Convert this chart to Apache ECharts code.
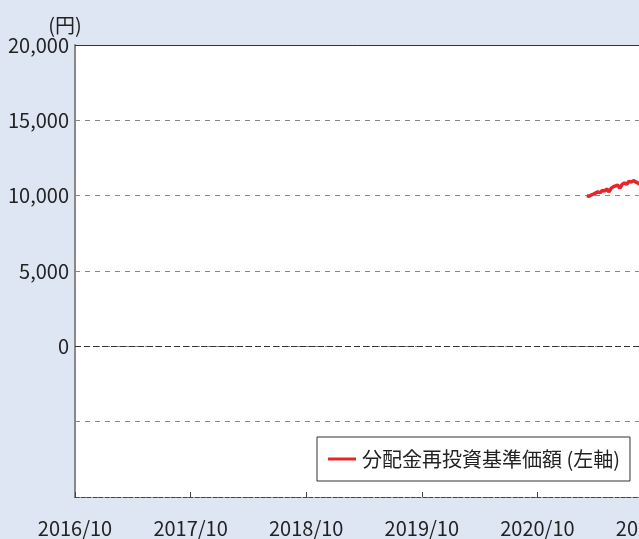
<!DOCTYPE html>
<html>
<head>
<meta charset="utf-8">
<script src="https://cdn.jsdelivr.net/npm/echarts@6/dist/echarts.min.js"></script>
<style>
html, body { margin: 0; padding: 0; background: #dee6f4; }
#main { width: 639px; height: 539px; }
</style>
</head>
<body>
<div id="main"></div>
<script>
// 基準価額の推移 (週次, 目視で読み取り)
var dates = [
    '2021/03/05', '2021/03/12', '2021/03/19', '2021/03/26', '2021/04/02',
    '2021/04/09', '2021/04/16', '2021/04/23', '2021/04/30', '2021/05/07',
    '2021/05/14', '2021/05/21', '2021/05/28', '2021/06/04', '2021/06/11',
    '2021/06/18', '2021/06/25', '2021/07/02', '2021/07/09', '2021/07/16',
    '2021/07/23', '2021/07/30', '2021/08/06', '2021/08/13', '2021/08/20',
    '2021/08/27'
];
var navValues = [
    10000, 9950, 10050, 10100, 10050,
    10250, 10200, 10350, 10300, 10450,
    10250, 10500, 10600, 10550, 10700,
    10500, 10750, 10850, 10750, 10950,
    10900, 11000, 11050, 10850, 10750,
    10600
];
var yTicks = [-10000, -5000, 0, 5000, 10000, 15000, 20000];
var seriesName = '分配金再投資基準価額 (左軸)';

var FONT = '"Noto Sans CJK JP", "Noto Sans", sans-serif';
var START_YEAR = 2016;

// 2016/10 からの月数に変換
var toMonths = function (s) {
    var p = s.split('/');
    return (parseInt(p[0], 10) - START_YEAR) * 12 + (parseInt(p[1], 10) - 10) + (parseInt(p[2], 10) - 1) / 30;
};

var points = [];
for (var i = 0; i < dates.length; i++) {
    points.push([toMonths(dates[i]), navValues[i]]);
}

var fmt = function (v) {
    return v < 0 ? '' : String(v).replace(/\B(?=(\d{3})+(?!\d))/g, ',');
};

var chart = echarts.init(document.getElementById('main'), null, {renderer: 'canvas'});
chart.setOption({
    backgroundColor: '#dee6f4',
    animation: false,
    textStyle: {fontFamily: FONT},
    grid: {
        left: 75, top: 45, bottom: 42, right: -14,
        outerBoundsMode: 'none', containLabel: false,
        show: true, backgroundColor: '#fff', borderWidth: 0
    },
    legend: {
        left: 317,
        top: 437,
        padding: [12, 10, 12, 11],
        backgroundColor: '#fff',
        borderColor: '#333',
        borderWidth: 1,
        borderRadius: 0,
        icon: 'rect',
        itemWidth: 28,
        itemHeight: 3,
        itemGap: 5,
        textStyle: {fontFamily: FONT, fontSize: 20, color: '#222', padding: [0, 0, 0, 1]},
        data: [seriesName]
    },
    xAxis: {
        type: 'value',
        min: 0,
        max: 60,
        interval: 12,
        axisLine: {show: true, onZero: false, lineStyle: {color: '#444', type: 'dashed', width: 1}},
        axisTick: {show: true, inside: true, length: 5, lineStyle: {color: '#444'}},
        splitLine: {show: false},
        axisLabel: {
            margin: 21,
            fontSize: 20,
            color: '#222',
            fontFamily: FONT,
            showMaxLabel: true,
            formatter: function (v) {
                return (START_YEAR + v / 12) + '/10';
            }
        }
    },
    yAxis: {
        type: 'value',
        min: yTicks[0],
        max: yTicks[yTicks.length - 1],
        interval: 5000,
        name: '(円)',
        nameLocation: 'end',
        nameGap: 10,
        nameTextStyle: {fontFamily: FONT, fontSize: 20, color: '#222', align: 'center', padding: [0, 20, 0, 0]},
        axisLine: {show: true, lineStyle: {color: '#888', width: 2}},
        axisTick: {show: false},
        splitLine: {show: true, lineStyle: {color: '#888', type: [5, 5], width: 1}},
        axisLabel: {margin: 6, fontSize: 20, color: '#222', fontFamily: FONT, formatter: fmt}
    },
    series: [{
        name: seriesName,
        type: 'line',
        data: points,
        showSymbol: false,
        lineStyle: {color: '#e8262a', width: 3.5},
        itemStyle: {color: '#e8262a'},
        markLine: {
            silent: true,
            symbol: 'none',
            label: {show: false},
            data: [
                {yAxis: 0, lineStyle: {color: '#333', type: [6, 3], width: 1}},
                {yAxis: 20000, lineStyle: {color: '#333', type: 'solid', width: 1}}
            ]
        }
    }]
});
</script>
</body>
</html>
